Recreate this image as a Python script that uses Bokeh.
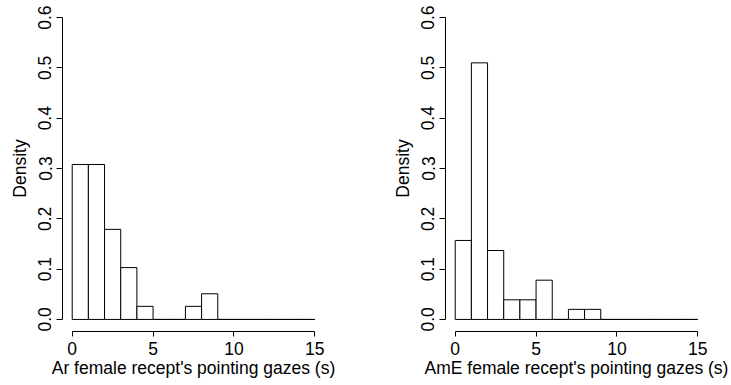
import math
from bokeh.plotting import figure
from bokeh.layouts import row
from bokeh.models import FixedTicker, ColumnDataSource, Range1d
from bokeh.embed import file_html
from bokeh.resources import INLINE

# ---- data ----
bin_edges = [0, 1, 2, 3, 4, 5, 6, 7, 8, 9, 10, 11, 12, 13, 14, 15]
ar_density = [0.308, 0.308, 0.179, 0.103, 0.026, 0.0, 0.0, 0.026, 0.051, 0.0, 0.0, 0.0, 0.0, 0.0, 0.0]
ame_density = [0.157, 0.510, 0.137, 0.039, 0.039, 0.078, 0.0, 0.020, 0.020, 0.0, 0.0, 0.0, 0.0, 0.0, 0.0]
x_ticks = [0, 5, 10, 15]
y_ticks = [0.0, 0.1, 0.2, 0.3, 0.4, 0.5, 0.6]
y_tick_labels = ["0.0", "0.1", "0.2", "0.3", "0.4", "0.5", "0.6"]
ar_label = "Ar female recept's pointing gazes (s)"
ame_label = "AmE female recept's pointing gazes (s)"
y_label = "Density"

FONT = "Liberation Sans"
FS = "17.5px"


def make_panel(density, xlabel, width, left_border):
    xr = (x_ticks[-1] - x_ticks[0]) * 0.04
    yr = (y_ticks[-1] - y_ticks[0]) * 0.04
    p = figure(frame_width=262, frame_height=326, output_backend="svg", toolbar_location=None,
               x_range=Range1d(x_ticks[0] - xr, x_ticks[-1] + xr),
               y_range=Range1d(y_ticks[0] - yr, y_ticks[-1] + yr),
               min_border_left=left_border, min_border_right=width - left_border - 262,
               min_border_top=5, min_border_bottom=54)
    p.outline_line_color = None
    p.xgrid.visible = False
    p.ygrid.visible = False
    p.background_fill_color = "white"
    p.border_fill_color = "white"

    src = ColumnDataSource(dict(left=bin_edges[:-1], right=bin_edges[1:], top=density,
                                bottom=[0.0] * len(density)))
    p.quad(left="left", right="right", top="top", bottom="bottom", source=src,
           fill_color="white", line_color="black", line_width=1)

    for ax in (p.xaxis[0], p.yaxis[0]):
        ax.axis_line_color = "black"
        ax.major_tick_line_color = "black"
        ax.minor_tick_line_color = None
        ax.major_tick_in = 0
        ax.major_label_text_font = FONT
        ax.major_label_text_font_size = FS
        ax.major_label_text_color = "black"
        ax.axis_label_text_font = FONT
        ax.axis_label_text_font_size = FS
        ax.axis_label_text_font_style = "normal"
        ax.axis_label_text_color = "black"

    xa = p.xaxis[0]
    xa.ticker = FixedTicker(ticks=x_ticks)
    xa.bounds = (x_ticks[0], x_ticks[-1])
    xa.axis_label = xlabel
    xa.major_tick_out = 5
    xa.major_label_standoff = 5
    xa.axis_label_standoff = 0

    ya = p.yaxis[0]
    ya.ticker = FixedTicker(ticks=y_ticks)
    ya.bounds = (y_ticks[0], y_ticks[-1])
    ya.major_label_overrides = {t: s for t, s in zip(y_ticks, y_tick_labels)}
    ya.major_label_orientation = "parallel"
    ya.axis_label = y_label
    ya.major_tick_out = 6
    ya.major_label_standoff = 5
    ya.axis_label_standoff = 6
    return p


p1 = make_panel(ar_density, ar_label, 365, 62)
p2 = make_panel(ame_density, ame_label, 366, 80)
layout = row(p1, p2)

open("out.html", "w").write(file_html(layout, INLINE))
